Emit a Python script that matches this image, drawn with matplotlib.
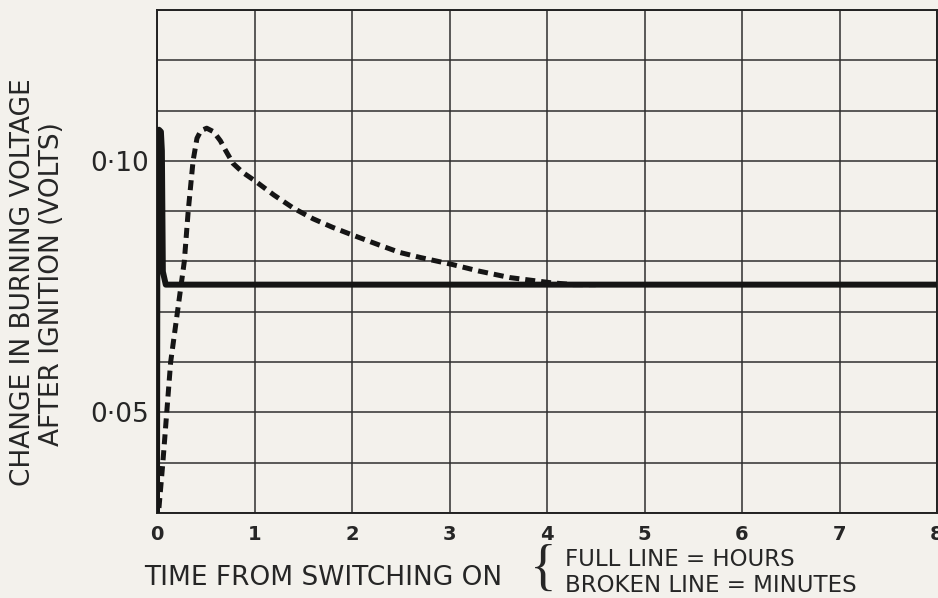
import numpy as np
import matplotlib
matplotlib.use("Agg")
import matplotlib.pyplot as plt

plt.rcParams["font.family"] = ["DejaVu Sans"]
plt.rcParams["lines.scale_dashes"] = False

# full line: time in hours, broken line: time in minutes
solid_t = [0.0, 0.005, 0.02, 0.04, 0.05, 0.06, 0.09, 8.0]
solid_v = [0.030, 0.104, 0.1062, 0.1058, 0.102, 0.078, 0.0754, 0.0754]

broken_t = [0.02, 0.06, 0.10, 0.14, 0.21, 0.28, 0.32, 0.37, 0.41, 0.45,
            0.51, 0.58, 0.65, 0.70, 0.78, 0.88, 1.00, 1.20, 1.40, 1.60,
            1.80, 2.00, 2.29, 2.49, 2.70, 3.03, 3.30, 3.62, 4.03, 4.27,
            4.50]
broken_v = [0.031, 0.040, 0.050, 0.060, 0.070, 0.080, 0.090, 0.100, 0.1045,
            0.1060, 0.1065, 0.1058, 0.1040, 0.1022, 0.0995, 0.0977, 0.0961,
            0.0932, 0.0906, 0.0885, 0.0868, 0.0853, 0.0832, 0.0818, 0.0808,
            0.0794, 0.0781, 0.0768, 0.0758, 0.0754, 0.0754]

x_ticks = [0, 1, 2, 3, 4, 5, 6, 7, 8]
x_labels = ["0", "1", "2", "3", "4", "5", "6", "7", "8"]
y_ticks = [0.05, 0.10]
y_labels = ["0·05", "0·10"]

paper = "#f3f1ec"
ink = "#262626"

fig = plt.figure(figsize=(9.38, 5.98), dpi=100, facecolor=paper)
ax = fig.add_axes([157 / 938, 1 - 513 / 598, 780 / 938, 503 / 598])
ax.set_facecolor(paper)

ax.plot(solid_t, solid_v, color="#151515", lw=4.3,
        solid_joinstyle="round", solid_capstyle="butt", zorder=4)
ax.plot(broken_t, broken_v, color="#151515", lw=3.6,
        dashes=(7.2, 4.3), dash_capstyle="butt", zorder=3)

ax.set_xlim(0, 8)
ax.set_ylim(0.03, 0.13)

# grid every hour / every 0.01 V
ax.set_xticks(x_ticks)
ax.set_xticklabels(x_labels, fontsize=14, fontweight="bold", color=ink)
grid_y = np.arange(0.03, 0.1301, 0.01)
ax.set_yticks(grid_y)
ax.set_yticklabels([y_labels[y_ticks.index(t)] if t in y_ticks else ""
                    for t in np.round(grid_y, 2)],
                   fontsize=19, color=ink)
ax.grid(True, color="#2e2e2e", lw=1.1)
ax.set_axisbelow(True)

ax.tick_params(axis="both", length=0)
ax.tick_params(axis="x", pad=9)
ax.tick_params(axis="y", pad=6)

for side in ["left", "right", "top", "bottom"]:
    ax.spines[side].set_color("#222222")
    ax.spines[side].set_linewidth(1.4)

# axis titles
fig.text(23 / 938, 1 - 282 / 598, "CHANGE IN BURNING VOLTAGE", rotation=90,
         ha="center", va="center", fontsize=19, color=ink)
fig.text(52 / 938, 1 - 284 / 598, "AFTER IGNITION (VOLTS)", rotation=90,
         ha="center", va="center", fontsize=19, color=ink)

fig.text(144 / 938, 1 - 578 / 598, "TIME FROM SWITCHING ON",
         ha="left", va="center", fontsize=19, color=ink)
fig.text(543 / 938, 1 - 571 / 598, "{", ha="center", va="center",
         fontsize=40, family="Liberation Serif", color=ink)
fig.text(565 / 938, 1 - 560 / 598, "FULL LINE = HOURS",
         ha="left", va="center", fontsize=16.5, color=ink)
fig.text(565 / 938, 1 - 585 / 598, "BROKEN LINE = MINUTES",
         ha="left", va="center", fontsize=16.5, color=ink)

fig.savefig("out.png", dpi=100, facecolor=paper)
